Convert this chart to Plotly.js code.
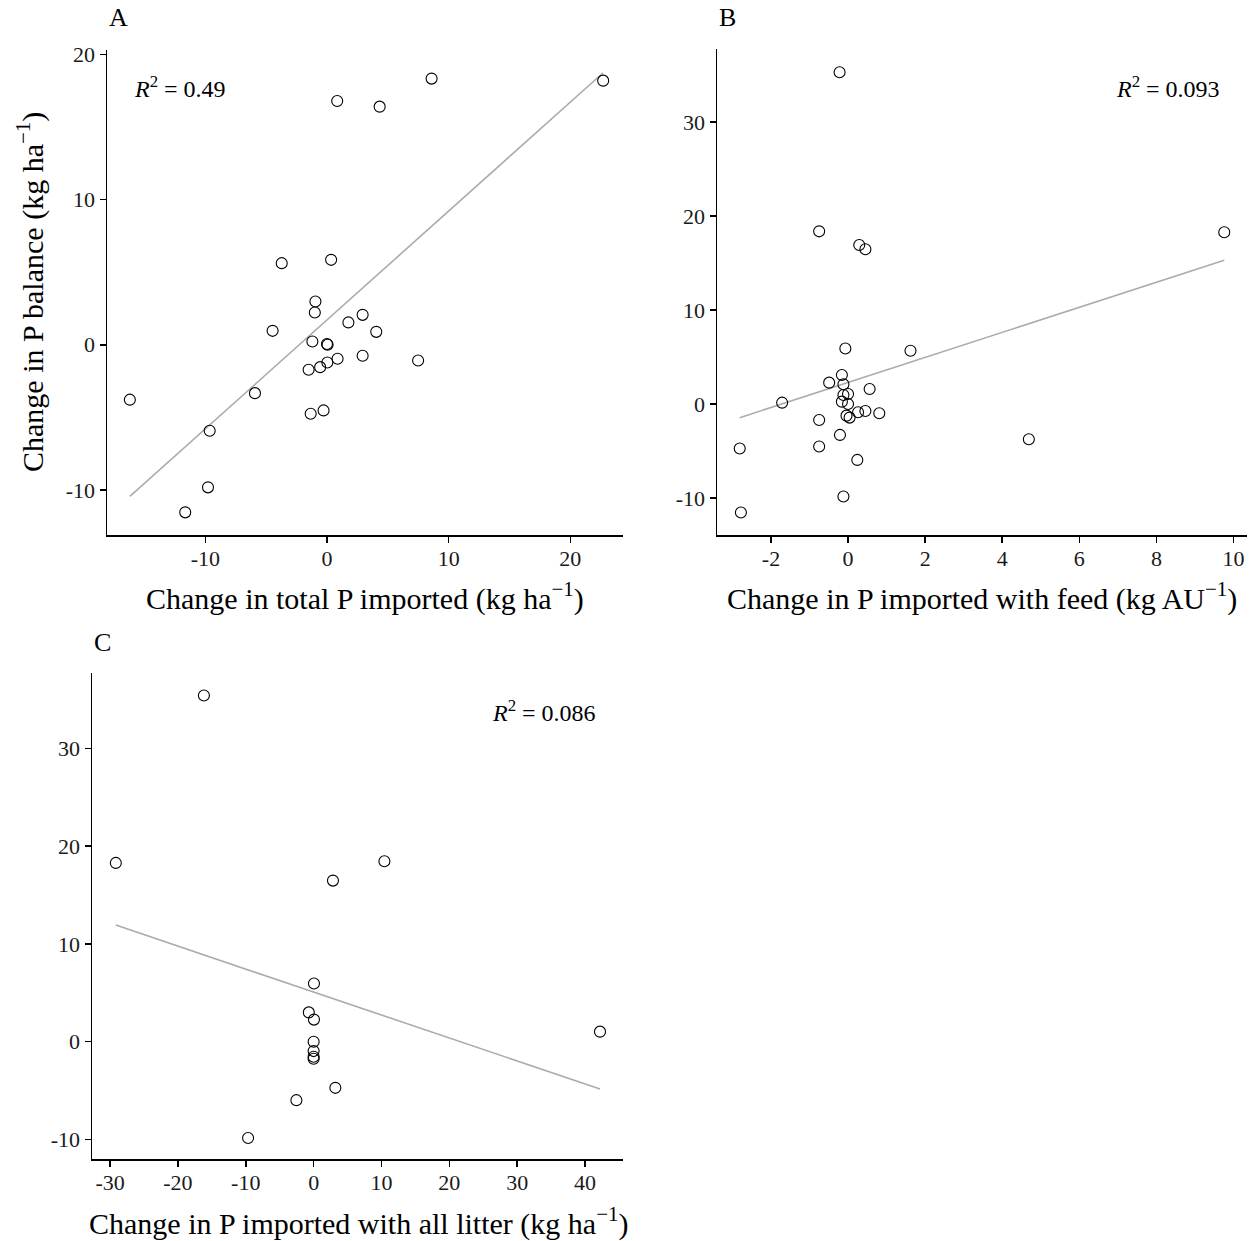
<!DOCTYPE html>
<html>
<head>
<meta charset="utf-8">
<script src="https://cdn.plot.ly/plotly-3.0.1.min.js"></script>
<style>html,body{margin:0;padding:0;background:#fff;}#chart{width:1256px;height:1241px;}</style>
</head>
<body>
<div id="chart"></div>
<script>
// ---- Panel A: change in total P imported vs change in P balance ----
const aX = [-16.2, -11.65, -9.78, -9.64, -5.92, -4.47, -3.72, -0.95, -1.0, -1.2, 0, 0.05, -1.51, -0.56, 0.03, 0.87, -1.34, -0.28, 0.34, 0.84, 4.33, 8.6, 22.7, 1.76, 2.93, 4.05, 2.93, 7.49];
const aY = [-3.78, -11.54, -9.82, -5.92, -3.33, 0.96, 5.62, 2.98, 2.22, 0.23, 0.05, 0.0, -1.72, -1.54, -1.22, -0.96, -4.75, -4.52, 5.85, 16.79, 16.4, 18.33, 18.19, 1.54, 2.06, 0.89, -0.76, -1.08];
const aFit = {intercept: 1.71, slope: 0.75};
const aR2 = "0.49";

// ---- Panel B: change in P imported with feed ----
const bX = [-0.22, -0.75, 0.29, 0.45, 9.76, -0.07, 1.62, -0.16, -0.49, -0.12, 0.56, 0, -0.12, -0.16, 0, -1.71, -0.04, 0.04, 0.26, 0.45, 0.81, -0.75, -0.21, -0.75, -2.81, 0.24, 4.69, -0.12, -2.78];
const bY = [35.3, 18.37, 16.92, 16.46, 18.27, 5.91, 5.66, 3.08, 2.27, 2.09, 1.59, 1.06, 0.96, 0.25, 0, 0.14, -1.24, -1.45, -0.88, -0.74, -0.99, -1.7, -3.29, -4.53, -4.74, -5.95, -3.75, -9.84, -11.54];
const bFit = {intercept: 2.29, slope: 1.332};
const bR2 = "0.093";

// ---- Panel C: change in P imported with all litter ----
const cX = [-16.17, -29.15, 10.43, 2.85, 0.05, -0.71, 0.05, 0, 0, 0, 0, 42.2, 3.2, -2.54, -9.66];
const cY = [35.42, 18.29, 18.46, 16.48, 5.95, 3.0, 2.26, 0, -0.96, -1.54, -1.74, 1.03, -4.72, -5.98, -9.85];
const cFit = {intercept: 5.08, slope: -0.235};
const cR2 = "0.086";

// ---- tick labels ----
const aXTicks = [-10, 0, 10, 20];
const aYTicks = [-10, 0, 10, 20];
const bXTicks = [-2, 0, 2, 4, 6, 8, 10];
const bYTicks = [-10, 0, 10, 20, 30];
const cXTicks = [-30, -20, -10, 0, 10, 20, 30, 40];
const cYTicks = [-10, 0, 10, 20, 30];

const titles = {
  aX: "Change in total P imported (kg ha<sup>\u22121</sup>)",
  aY: "Change in P balance (kg ha<sup>\u22121</sup>)",
  bX: "Change in P imported with feed (kg AU<sup>\u22121</sup>)",
  cX: "Change in P imported with all litter (kg ha<sup>\u22121</sup>)"
};
const panelLetters = ["A", "B", "C"];

const W = 1256, H = 1241;
const FONT = "Liberation Serif, Times New Roman, serif";

function fitLine(xs, fit) {
  const lo = Math.min(...xs), hi = Math.max(...xs);
  return {x: [lo, hi], y: [fit.intercept + fit.slope * lo, fit.intercept + fit.slope * hi]};
}
function pts(x, y, xa, ya) {
  return {x: x, y: y, xaxis: xa, yaxis: ya, type: "scatter", mode: "markers",
    marker: {symbol: "circle-open", size: 11, color: "#000", line: {width: 1.1, color: "#000"}},
    hoverinfo: "x+y", showlegend: false};
}
function line(xs, fit, xa, ya) {
  const l = fitLine(xs, fit);
  return {x: l.x, y: l.y, xaxis: xa, yaxis: ya, type: "scatter", mode: "lines",
    line: {color: "#ababab", width: 1.6}, hoverinfo: "skip", showlegend: false};
}
function lbl(v) { return v.map(t => String(t)); }

const data = [
  line(aX, aFit, "x", "y"), pts(aX, aY, "x", "y"),
  line(bX, bFit, "x2", "y2"), pts(bX, bY, "x2", "y2"),
  line(cX, cFit, "x3", "y3"), pts(cX, cY, "x3", "y3")
];

function ax(domain, range, ticks, anchor, isX) {
  return {domain: domain, range: range, anchor: anchor,
    tickvals: ticks, ticktext: lbl(ticks),
    showgrid: false, zeroline: false, showline: true, linecolor: "#000", linewidth: 1.5,
    ticks: "outside", ticklen: 6, tickwidth: 1.5, tickcolor: "#000",
    ticklabelstandoff: isX ? -3 : 0,
    tickfont: {family: FONT, size: 22, color: "#1a1a1a"}, fixedrange: true};
}

const pdx = v => v / W;
const pdy = v => 1 - v / H;

const TF = {family: FONT, size: 30, color: "#000"};
const RF = {family: FONT, size: 24, color: "#000"};
const LF = {family: FONT, size: 26, color: "#000"};

const layout = {
  width: W, height: H, margin: {l: 0, r: 0, t: 0, b: 0},
  paper_bgcolor: "#fff", plot_bgcolor: "#fff",
  font: {family: FONT, color: "#000"},
  showlegend: false,
  xaxis:  ax([pdx(107), pdx(623)], [-18.08, 24.33], aXTicks, "y", true),
  yaxis:  ax([pdy(535), pdy(50)], [-13.10, 20.30], aYTicks, "x", false),
  xaxis2: ax([pdx(717), pdx(1247)], [-3.40, 10.35], bXTicks, "y2", true),
  yaxis2: ax([pdy(535), pdy(49)], [-13.94, 37.77], bYTicks, "x2", false),
  xaxis3: ax([pdx(92), pdx(623)], [-32.66, 45.59], cXTicks, "y3", true),
  yaxis3: ax([pdy(1159), pdy(673)], [-12.0, 37.72], cYTicks, "x3", false),
  annotations: [
    {text: "<i>R</i><sup>2</sup> = " + aR2, xref: "paper", yref: "paper", x: pdx(180), y: pdy(87), xanchor: "center", yanchor: "middle", showarrow: false, font: RF},
    {text: "<i>R</i><sup>2</sup> = " + bR2, xref: "paper", yref: "paper", x: pdx(1168), y: pdy(87), xanchor: "center", yanchor: "middle", showarrow: false, font: RF},
    {text: "<i>R</i><sup>2</sup> = " + cR2, xref: "paper", yref: "paper", x: pdx(544), y: pdy(711), xanchor: "center", yanchor: "middle", showarrow: false, font: RF},
    {text: titles.aX, xref: "paper", yref: "paper", x: pdx(365), y: pdy(597), xanchor: "center", yanchor: "middle", showarrow: false, font: TF},
    {text: titles.bX, xref: "paper", yref: "paper", x: pdx(982), y: pdy(597), xanchor: "center", yanchor: "middle", showarrow: false, font: TF},
    {text: titles.cX, xref: "paper", yref: "paper", x: pdx(358), y: pdy(1221), xanchor: "center", yanchor: "middle", showarrow: false, font: TF},
    {text: titles.aY, xref: "paper", yref: "paper", x: pdx(30), y: pdy(292), xanchor: "center", yanchor: "middle", textangle: -90, showarrow: false, font: TF},
    {text: panelLetters[0], xref: "paper", yref: "paper", x: pdx(118), y: pdy(18), xanchor: "center", yanchor: "middle", showarrow: false, font: LF},
    {text: panelLetters[1], xref: "paper", yref: "paper", x: pdx(727), y: pdy(18), xanchor: "center", yanchor: "middle", showarrow: false, font: LF},
    {text: panelLetters[2], xref: "paper", yref: "paper", x: pdx(102), y: pdy(642), xanchor: "center", yanchor: "middle", showarrow: false, font: LF}
  ]
};

Plotly.newPlot("chart", data, layout, {displayModeBar: false, staticPlot: true});
</script>
</body>
</html>
